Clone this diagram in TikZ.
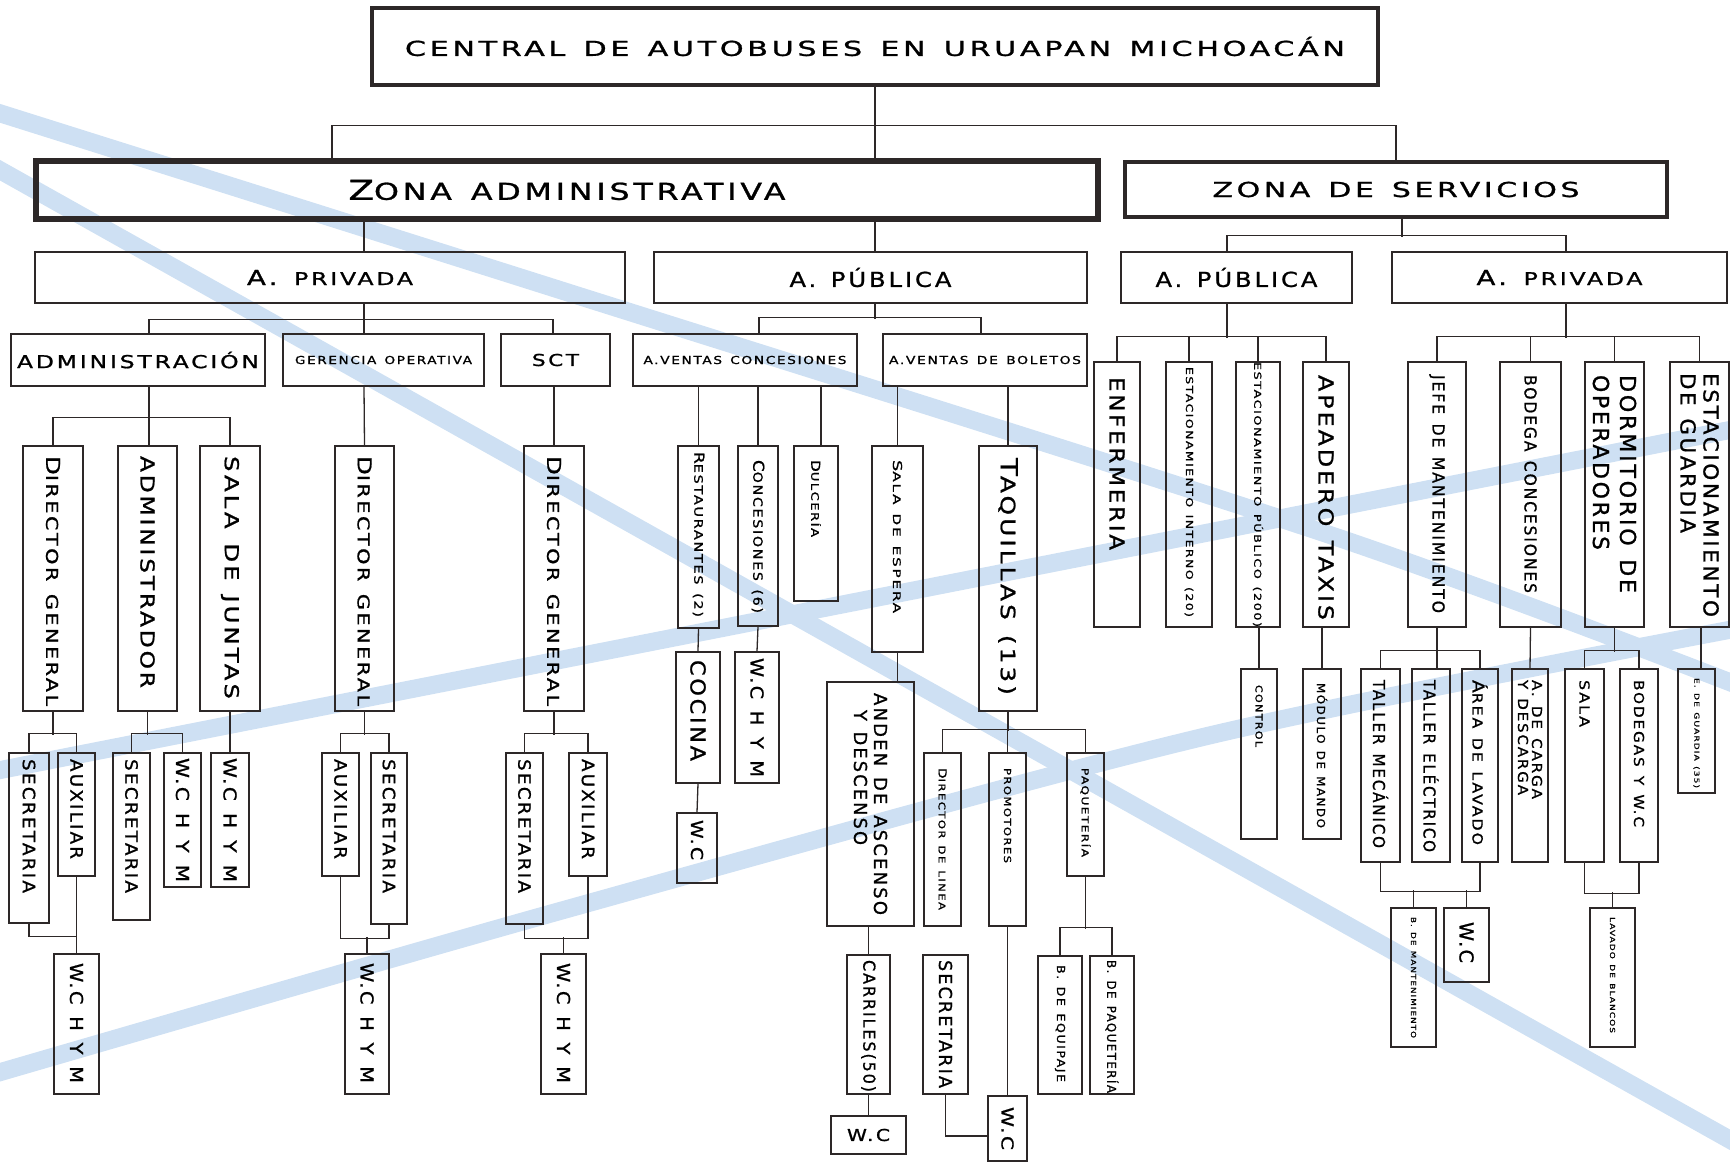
\documentclass[tikz,border=0pt]{standalone}
\usepackage{fontspec}
\setmainfont{DejaVu Sans}[LetterSpace=12,FakeBold=1]
\usepackage{graphicx}
\definecolor{linec}{RGB}{45,40,40}
\definecolor{bandc}{RGB}{206,224,243}
\newcommand\lbl[3]{\resizebox{#2pt}{\height}{\fontsize{#1}{#1}\selectfont\spaceskip=.6em\relax #3}}
\newcommand\smc[3][.8]{#2\scalebox{#1}{#3}}
\newcommand\hnode[7][]{\pgfmathsetmacro\bxw{#5-#3}\pgfmathsetmacro\bxh{#6-#4}%
  \node[box,minimum width=\bxw pt,minimum height=\bxh pt,#1] (#2) at ({(#3+#5)/2},{(#4+#6)/2}) {#7};}
\newcommand\vnode[8][]{\pgfmathsetmacro\bxw{#5-#3}\pgfmathsetmacro\bxt{#6-#4-2*#7}%
  \node[vbox,minimum height=\bxw pt,text width=\bxt pt,inner xsep=#7pt,#1] (#2) at ({(#3+#5)/2},{(#4+#6)/2}) {#8};}

\begin{document}
\begin{tikzpicture}[x=1pt,y=-1pt,
  box/.style={draw=linec,line width=1.3pt,inner sep=0pt},
  vbox/.style={box,rotate=-90,align=left,inner ysep=0pt},
  link/.style={linec,line width=1.3pt},
  band/.style={bandc,line width=18pt}]
\useasboundingbox (0,0) rectangle (1730,1163);
\clip (0,0) rectangle (1730,1163);

\draw[band] (-20,159) -- (1750,1151);
\draw[band] plot[smooth] coordinates {(-20,107) (560,290) (1330,535) (1750,690)};
\draw[band] (-20,774) -- (1750,426);
\draw[band] plot[smooth] coordinates {(-20,1078) (560,911) (1203,737) (1750,626)};

\hnode[line width=4.5pt]{title}{372}{8}{1378}{85}{\lbl{20.6}{940}{CENTRAL DE AUTOBUSES EN URUAPAN MICHOACÁN}}
\hnode[line width=5.5pt]{zadm}{36}{161}{1098}{219}{\lbl{27.4}{437}{\smc[.85]{Z}{ONA ADMINISTRATIVA}}}
\hnode[line width=4pt]{zserv}{1125}{162}{1667}{217}{\lbl{20.6}{367}{ZONA DE SERVICIOS}}
\hnode{apriv}{35}{252}{625}{303}{\lbl{20.6}{166}{\smc[.85]{A.\ }{PRIVADA}}}
\hnode{apub}{654}{252}{1087}{303}{\lbl{20.6}{162}{A. PÚBLICA}}
\hnode{apubs}{1121}{252}{1352}{303}{\lbl{20.6}{162}{A. PÚBLICA}}
\hnode{aprivs}{1392}{252}{1727}{303}{\lbl{20.6}{166}{\smc[.85]{A.\ }{PRIVADA}}}
\hnode{adm}{11}{334}{265}{386}{\lbl{17.8}{242}{ADMINISTRACIÓN}}
\hnode{ger}{283}{334}{484}{386}{\lbl{11}{177}{GERENCIA OPERATIVA}}
\hnode{sct}{501}{334}{610}{386}{\lbl{16.4}{47}{SCT}}
\hnode{avc}{633}{334}{857}{386}{\lbl{11}{203}{A.VENTAS CONCESIONES}}
\hnode{avb}{883}{334}{1087}{386}{\lbl{11}{192}{A.VENTAS DE BOLETOS}}

\vnode{dg1}{23}{446}{83}{711}{10}{\lbl{19.2}{250}{\smc[.85]{D}{IRECTOR GENERAL}}}
\vnode{admr}{118}{446}{177}{711}{10}{\lbl{19.2}{232}{ADMINISTRADOR}}
\vnode{sdj}{200}{446}{260}{711}{10}{\lbl{19.2}{243}{SALA DE JUNTAS}}
\vnode{dg2}{335}{446}{394}{711}{10}{\lbl{19.2}{250}{\smc[.85]{D}{IRECTOR GENERAL}}}
\vnode{dg3}{524}{446}{584}{711}{10}{\lbl{19.2}{250}{\smc[.85]{D}{IRECTOR GENERAL}}}
\vnode{sec1}{9}{753}{49}{923}{6}{\lbl{17}{134}{SECRETARIA}}
\vnode{aux1}{58}{753}{95}{876}{6}{\lbl{17}{100}{AUXILIAR}}
\vnode{wch1}{54}{954}{99}{1094}{9}{\lbl{17.8}{120}{W.C H Y M}}
\vnode{sec2}{113}{753}{150}{920}{6}{\lbl{17}{134}{SECRETARIA}}
\vnode{wch2}{164}{753}{201}{887}{5}{\lbl{17.8}{124}{W.C H Y M}}
\vnode{wch3}{211}{753}{249}{887}{5}{\lbl{17.8}{124}{W.C H Y M}}
\vnode{aux2}{322}{753}{359}{876}{6}{\lbl{17}{100}{AUXILIAR}}
\vnode{sec3}{371}{753}{407}{924}{6}{\lbl{17}{134}{SECRETARIA}}
\vnode{wch4}{345}{954}{389}{1094}{9}{\lbl{17.8}{120}{W.C H Y M}}
\vnode{sec4}{506}{753}{543}{924}{6}{\lbl{17}{134}{SECRETARIA}}
\vnode{aux3}{569}{753}{607}{876}{6}{\lbl{17}{100}{AUXILIAR}}
\vnode{wch5}{541}{954}{586}{1094}{9}{\lbl{17.8}{120}{W.C H Y M}}

\vnode{rest}{678}{446}{719}{628}{6}{\lbl{13.7}{165}{\smc[.85]{R}{ESTAURANTES (2)}}}
\vnode{conc}{738}{446}{778}{626}{14}{\lbl{15}{153}{\smc[.85]{C}{ONCESIONES (6)}}}
\vnode{dulc}{794}{446}{838}{601}{14}{\lbl{12.3}{77}{\smc[.85]{D}{ULCERÍA}}}
\vnode{cocina}{676}{652}{720}{783}{8}{\lbl{20.6}{101}{COCINA}}
\vnode{wchc}{735}{652}{779}{783}{6}{\lbl{17.8}{119}{W.C H Y M}}
\vnode{wcco}{677}{813}{717}{883}{7}{\lbl{16.4}{40}{W.C}}
\vnode{sesp}{872}{446}{923}{652}{14}{\lbl{12.3}{153}{\smc[.85]{S}{ALA DE ESPERA}}}
\vnode{taq}{979}{446}{1037}{711}{12}{\lbl{23.3}{237}{\smc[.85]{T}{AQUILLAS (13)}}}
\vnode[font=\fontsize{17}{20}\selectfont]{anden}{827}{682}{914}{926}{11}{\lbl{17.8}{222}{ANDEN DE ASCENSO}\\\hspace*{17pt}\lbl{17.8}{135}{Y DESCENSO}}
\vnode{dlin}{924}{753}{961}{926}{15}{\lbl{11}{142}{\smc[.85]{D}{IRECTOR DE LINEA}}}
\vnode{prom}{989}{753}{1026}{926}{15}{\lbl{9.6}{95}{PROMOTORES}}
\vnode{paq}{1067}{753}{1104}{876}{15}{\lbl{9.6}{89}{PAQUETERÍA}}
\vnode{carr}{847}{955}{890}{1094}{5}{\lbl{16.4}{132}{CARRILES(50)}}
\vnode{secd}{923}{955}{968}{1094}{5}{\lbl{17.8}{128}{SECRETARIA}}
\vnode{wcp}{988}{1096}{1027}{1161}{11}{\lbl{16.4}{43}{W.C}}
\vnode{beq}{1038}{956}{1082}{1094}{9}{\lbl{11}{117}{B. DE EQUIPAJE}}
\vnode{bpaq}{1090}{956}{1134}{1094}{4}{\lbl{12.3}{133}{B. DE PAQUETERÍA}}
\hnode{wcc}{831}{1116}{906}{1154}{\lbl{16.4}{43}{W.C}}

\vnode{enf}{1094}{362}{1140}{627}{15}{\lbl{20.6}{173}{ENFERMERIA}}
\vnode{ei}{1166}{362}{1212}{627}{5}{\lbl{9.6}{250}{ESTACIONAMIENTO INTERNO (20)}}
\vnode{ep}{1236}{362}{1280}{627}{0}{\lbl{9.6}{265}{ESTACIONAMIENTO PÚBLICO (200)}}
\vnode{at}{1303}{362}{1349}{627}{13}{\lbl{20.6}{245}{APEADERO TAXIS}}
\vnode{ctrl}{1241}{669}{1277}{839}{16}{\lbl{9.6}{62}{CONTROL}}
\vnode{mm}{1303}{669}{1341}{839}{14}{\lbl{11}{145}{MÓDULO DE MANDO}}
\vnode{jefe}{1408}{362}{1466}{627}{13}{\lbl{16.4}{238}{JEFE DE MANTENIMIENTO}}
\vnode{bc}{1500}{362}{1561}{627}{13}{\lbl{16.4}{218}{BODEGA CONCESIONES}}
\vnode[font=\fontsize{20}{27}\selectfont]{dorm}{1585}{362}{1644}{627}{13}{\lbl{21.9}{218}{DORMITORIO DE}\\\lbl{21.9}{175}{OPERADORES}}
\vnode[font=\fontsize{20}{23}\selectfont]{eg}{1670}{362}{1729}{627}{11}{\lbl{20.6}{244}{ESTACIONAMIENTO}\\\lbl{20.6}{160}{DE GUARDIA}}
\vnode{tm}{1361}{669}{1400}{862}{11}{\lbl{16.4}{168}{TALLER MECÁNICO}}
\vnode{te}{1412}{669}{1450}{862}{11}{\lbl{16.4}{172}{TALLER ELÉCTRICO}}
\vnode{al}{1462}{669}{1498}{862}{11}{\lbl{16.4}{165}{\smc[.85]{Á}{REA DE LAVADO}}}
\vnode[font=\fontsize{13}{14}\selectfont]{acd}{1512}{669}{1548}{862}{11}{\lbl{13.7}{119}{A. DE CARGA}\\\lbl{13.7}{115}{Y DESCARGA}}
\vnode{sala}{1565}{669}{1604}{862}{11}{\lbl{13.7}{47}{SALA}}
\vnode{byw}{1620}{669}{1658}{862}{11}{\lbl{13.7}{147}{BODEGAS Y W.C}}
\vnode{edg}{1678}{669}{1715}{793}{9}{\lbl{6.9}{110}{E. DE GUARDIA (35)}}
\vnode{bman}{1391}{908}{1436}{1047}{9}{\lbl{6.9}{121}{B. DE MANTENIMIENTO}}
\vnode{wcj}{1444}{908}{1489}{982}{14}{\lbl{19.2}{41}{W.C}}
\vnode{lb}{1590}{908}{1635}{1047}{9}{\lbl{6.9}{116}{LAVADO DE BLANCOS}}

\draw[link] (title.south) -- (title.south |- zadm.north);
\draw[link] ([xshift=-235pt]zadm.north) -- ++(0,-33) -| (zserv.north);
\draw[link] ([xshift=34pt]apriv.north) -- ++(0,-33);
\draw[link] ([xshift=4.5pt]apub.north) -- ++(0,-33);
\draw[link] ([xshift=6pt]zserv.south) -- ++(0,18);
\draw[link] ([xshift=-9.5pt]apubs.north) -- ++(0,-16) -| ([xshift=6.5pt]aprivs.north);

\draw[link] ([xshift=34pt]apriv.south) -- ([xshift=-19.5pt]ger.north);
\draw[link] ([xshift=11pt]adm.north) -- ++(0,-14) -| ([xshift=-2.5pt]sct.north);
\draw[link] ([xshift=4.5pt]apub.south) -- ++(0,15);
\draw[link] ([xshift=14pt]avc.north) -- ++(0,-16) -| ([xshift=-4pt]avb.north);
\draw[link] ([xshift=-9.5pt]apubs.south) -- ++(0,34);
\draw[link] (enf.west) -- ++(0,-25) -| (at.west);
\draw[link] (ei.west) -- ++(0,-25);
\draw[link] (ep.west) -- ++(0,-25);
\draw[link] ([xshift=6.5pt]aprivs.south) -- ++(0,34);
\draw[link] (jefe.west) -- ++(0,-25) -| (eg.west);
\draw[link] (bc.west) -- ++(0,-25);
\draw[link] (dorm.west) -- ++(0,-25);

\draw[link] ([xshift=11pt]adm.south) -- ([xshift=1.5pt]admr.west);
\draw[link] (dg1.west) -- ++(0,-28) -| (sdj.west);
\draw[link] ([xshift=-19.5pt]ger.south) -- (dg2.west);
\draw[link] ([xshift=-1.5pt]sct.south) -- (dg3.west);
\draw[link] (dg1.east) -- ++(0,23);
\draw[link] (sec1.west) -- ++(0,-19) -| (aux1.west);
\draw[link] (sec1.east) -- ++(0,13) -| (wch1.west);
\draw[link] (aux1.east) -- (wch1.west);
\draw[link] (admr.east) -- ++(0,23);
\draw[link] (sec2.west) -- ++(0,-19) -| (wch2.west);
\draw[link] (sdj.east) -- (wch3.west);
\draw[link] (dg2.east) -- ++(0,23);
\draw[link] (aux2.west) -- ++(0,-19) -| (sec3.west);
\draw[link] (aux2.east) -- ++(0,62) -| (sec3.east);
\draw[link] (wch4.west) -- ++(0,-16);
\draw[link] (dg3.east) -- ++(0,23);
\draw[link] (sec4.west) -- ++(0,-19) -| (aux3.west);
\draw[link] (sec4.east) -- ++(0,14) -| (aux3.east);
\draw[link] (wch5.west) -- ++(0,-16);

\draw[link] (rest.west) -- ++(0,-60);
\draw[link] (conc.west) -- ++(0,-60);
\draw[link] ([xshift=5pt]dulc.west) -- ++(0,-60);
\draw[link] (rest.east) -- (cocina.west);
\draw[link] (conc.east) -- (wchc.west);
\draw[link] (cocina.east) -- (wcco.west);
\draw[link] (sesp.west) -- ++(0,-60);
\draw[link] (taq.west) -- ++(0,-60);
\draw[link] (sesp.east) -- ++(0,30);
\draw[link] (taq.east) -- ++(0,19);
\draw[link] (dlin.west) -- ++(0,-23) -| (paq.west);
\draw[link] (prom.west) -- ++(0,-23);
\draw[link] ([xshift=-2pt]anden.east) -- (carr.west);
\draw[link] (carr.east) -- (wcc.north);
\draw[link] (prom.east) -- (wcp.west);
\draw[link] (secd.east) |- ([yshift=-7.5pt]wcp.south);
\draw[link] (paq.east) -- ++(0,52);
\draw[link] (beq.west) -- ++(0,-28) -| (bpaq.west);

\draw[link] (ctrl.west) -- ++(0,-42);
\draw[link] (mm.west) -- ++(0,-42);
\draw[link] (jefe.east) -- ([xshift=6pt]te.west);
\draw[link] (tm.west) -- ++(0,-18) -| (al.west);
\draw[link] (bc.east) -- (acd.west);
\draw[link] (dorm.east) -- ++(0,24);
\draw[link] (sala.west) -- ++(0,-18) -| (byw.west);
\draw[link] ([xshift=4.5pt]edg.west) -- ++(0,-42);
\draw[link] (tm.east) -- ++(0,29) -| (al.east);
\draw[link] (bman.west) -- ++(0,-17);
\draw[link] (wcj.west) -- ++(0,-17);
\draw[link] (sala.east) -- ++(0,31) -| (byw.east);
\draw[link] (lb.west) -- ++(0,-15);
\end{tikzpicture}
\end{document}
